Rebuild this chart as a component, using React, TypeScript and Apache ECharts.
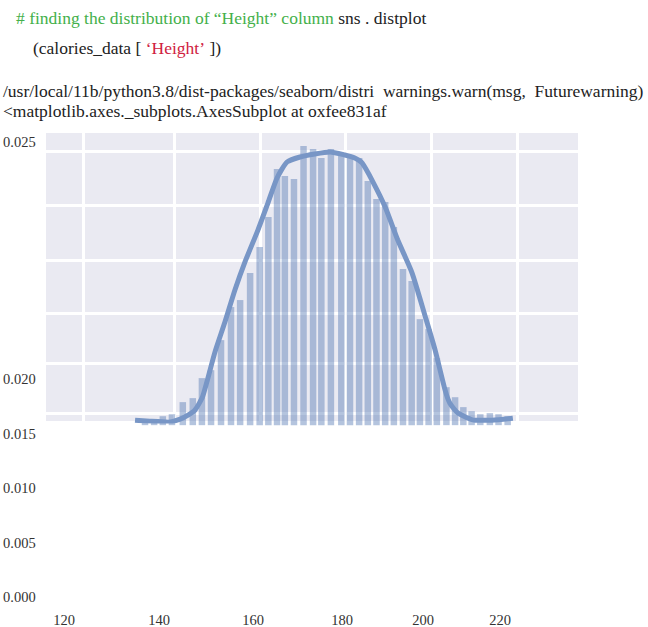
import React, { useEffect, useRef } from "react";
import * as echarts from "echarts";

// Histogram bins (bin centre, density)
const binCenters = [134.3, 136.4, 138.4, 140.5, 143.0, 145.3, 147.4, 149.5, 151.8, 154.1, 156.2, 158.5, 160.7, 162.7, 164.7, 166.5, 168.6, 170.8, 173.0, 174.9, 177.1, 179.5, 181.5, 183.6, 185.6, 187.6, 189.6, 191.6, 193.7, 195.7, 197.6, 199.6, 201.5, 203.7, 205.7, 207.6, 209.5, 211.5, 213.7, 215.7, 217.8];
const binDensity = [0.0004, 0.0005, 0.00086, 0.00105, 0.00221, 0.00259, 0.00451, 0.00527, 0.00815, 0.01132, 0.01199, 0.01458, 0.01707, 0.01995, 0.02455, 0.02388, 0.02359, 0.02675, 0.02647, 0.0256, 0.02647, 0.02608, 0.02589, 0.0256, 0.0234, 0.02167, 0.02138, 0.01899, 0.01496, 0.01381, 0.01016, 0.00921, 0.00642, 0.00364, 0.00268, 0.00173, 0.00134, 0.00105, 0.00115, 0.00105, 0.00086];

// KDE curve
const kdeX = [132.0, 135.4, 139.6, 142.4, 144.2, 145.8, 147.6, 150.4, 152.7, 155.0, 157.3, 160.3, 162.6, 164.7, 167.0, 170.0, 173.4, 176.9, 180.3, 182.6, 184.3, 186.8, 189.6, 192.5, 195.8, 198.8, 201.1, 203.4, 204.5, 206.4, 210.3, 214.2, 219.0];
const kdeY = [0.00048, 0.00038, 0.00029, 0.00058, 0.00096, 0.00144, 0.00278, 0.007, 0.00988, 0.01295, 0.01563, 0.0187, 0.02129, 0.02369, 0.02522, 0.0257, 0.02599, 0.02618, 0.02589, 0.0256, 0.02512, 0.0233, 0.0209, 0.01774, 0.01458, 0.01045, 0.00719, 0.00336, 0.00211, 0.00115, 0.00048, 0.00048, 0.00067];

// Grid line positions (data units)
const vGridValues = [120, 141, 160.8, 180.3, 200.1, 220];
const hGridValues = [0.00117, 0.00596, 0.01075, 0.01583, 0.0211, 0.02625];

// Tick labels as printed in the picture
const yTickLabels = ["0.025", "0.020", "0.015", "0.010", "0.005", "0.000"];
const xTickLabels = ["120", "140", "160", "180", "200", "220"];

// Notebook text lines
const codeComment = "# finding the distribution of “Height” column";
const codeCall = "sns . distplot";
const codeArgOpen = "(calories_data [ ";
const codeArgStr = "‘Height’";
const codeArgClose = " ])";
const warnLine = "/usr/local/11b/python3.8/dist-packages/seaborn/distri  warnings.warn(msg,  Futurewarning)";
const reprLine = "<matplotlib.axes._subplots.AxesSubplot at oxfee831af";

const FONT = "'Liberation Serif', 'DejaVu Serif', 'Times New Roman', serif";
const TEXT_SIZE = 17.5;

export default function App() {
  const ref = useRef<HTMLDivElement>(null);

  useEffect(() => {
    if (!ref.current) return;
    const chart = echarts.init(ref.current, undefined, { renderer: "svg" });

    const yLabelPos = [142, 379, 434, 488, 543, 597];
    const xLabelPos = [64, 159, 253, 342, 423, 500];

    const textEl = (text: string, x: number, y: number, align: string, size = 14.5, fill = "#333") => ({
      type: "text",
      x,
      y,
      silent: true,
      style: {
        text,
        fill,
        fontSize: size,
        fontFamily: FONT,
        textAlign: align,
        textVerticalAlign: "middle",
      },
    });

    const graphics: any[] = [
      {
        type: "text",
        x: 16,
        y: 18,
        silent: true,
        style: {
          text: `{g|${codeComment}} {d|${codeCall}}`,
          fontSize: TEXT_SIZE,
          fontFamily: FONT,
          textVerticalAlign: "middle",
          rich: {
            g: { fill: "#43b04a", fontSize: TEXT_SIZE, fontFamily: FONT },
            d: { fill: "#222", fontSize: TEXT_SIZE, fontFamily: FONT },
          },
        },
      },
      {
        type: "text",
        x: 33,
        y: 48,
        silent: true,
        style: {
          text: `{d|${codeArgOpen}}{r|${codeArgStr}}{d|${codeArgClose}}`,
          fontSize: TEXT_SIZE,
          fontFamily: FONT,
          textVerticalAlign: "middle",
          rich: {
            d: { fill: "#222", fontSize: TEXT_SIZE, fontFamily: FONT },
            r: { fill: "#d0223f", fontSize: TEXT_SIZE, fontFamily: FONT },
          },
        },
      },
      textEl(warnLine, 3, 91, "left", TEXT_SIZE, "#222"),
      textEl(reprLine, 3, 111, "left", TEXT_SIZE, "#222"),
      ...yTickLabels.map((t, i) => textEl(t, 3, yLabelPos[i], "left")),
      ...xTickLabels.map((t, i) => textEl(t, xLabelPos[i], 620, "center")),
    ];

    chart.setOption({
      animation: false,
      backgroundColor: "#ffffff",
      grid: {
        left: 46,
        top: 133,
        width: 532,
        height: 288,
        show: true,
        backgroundColor: "#eaeaf2",
        borderWidth: 0,
      },
      xAxis: {
        type: "value",
        min: 111.5,
        max: 234,
        show: false,
        splitLine: { show: false },
      },
      yAxis: {
        type: "value",
        min: 0.0004,
        max: 0.028,
        show: false,
        splitLine: { show: false },
      },
      graphic: graphics,
      series: [
        {
          type: "line",
          name: "grid",
          data: [[111.5, 0.0004]],
          symbol: "none",
          silent: true,
          lineStyle: { opacity: 0 },
          z: 1,
          markLine: {
            z: 1,
            silent: true,
            symbol: "none",
            precision: 6,
            animation: false,
            label: { show: false },
            lineStyle: { color: "#ffffff", width: 3, type: "solid" },
            emphasis: { disabled: true },
            data: [
              ...vGridValues.map((v) => ({ xAxis: v })),
              ...hGridValues.map((v) => ({ yAxis: v })),
            ],
          },
        },
        {
          type: "bar",
          name: "hist",
          data: binCenters.map((x, i) => [x, binDensity[i]]),
          barWidth: 6.5,
          clip: false,
          silent: true,
          itemStyle: { color: "rgba(76,114,176,0.42)" },
          z: 2,
        },
        {
          type: "line",
          name: "kde",
          data: kdeX.map((x, i) => [x, kdeY[i]]),
          symbol: "none",
          smooth: 0.2,
          silent: true,
          lineStyle: { color: "#7896c6", width: 5 },
          z: 3,
        },
      ],
    });

    return () => chart.dispose();
  }, []);

  return <div ref={ref} style={{ width: 648, height: 627, position: "absolute", left: 0, top: 0 }} />;
}
